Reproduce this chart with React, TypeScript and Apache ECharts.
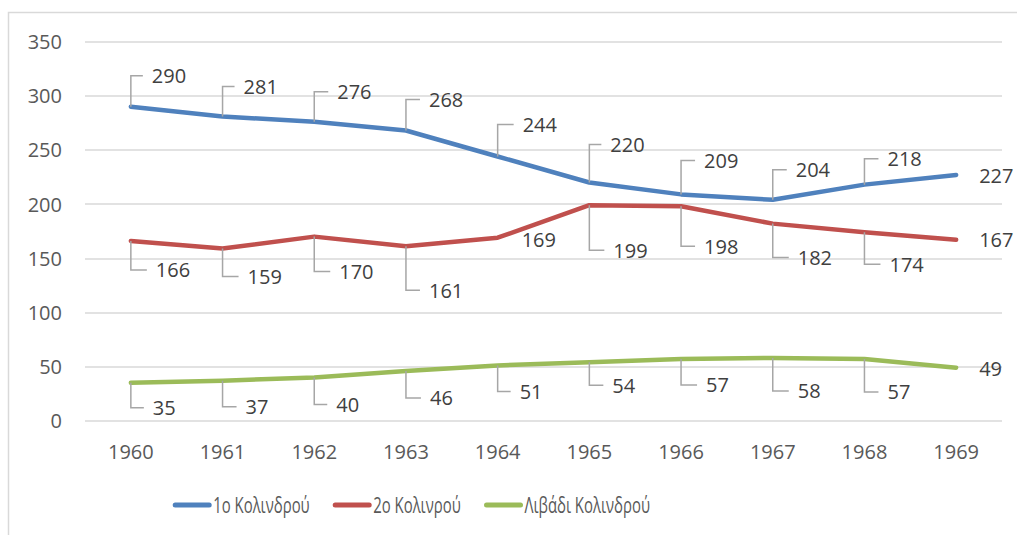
import React, { useEffect, useRef } from "react";
import * as echarts from "echarts";

// ---- data ----
const years = ["1960", "1961", "1962", "1963", "1964", "1965", "1966", "1967", "1968", "1969"];
const seriesNames = ["1ο Κολινδρού", "2ο Κολινρού", "Λιβάδι Κολινδρού"];
const kolindros1 = [290, 281, 276, 268, 244, 220, 209, 204, 218, 227];
const kolindros2 = [166, 159, 170, 161, 169, 199, 198, 182, 174, 167];
const livadi = [35, 37, 40, 46, 51, 54, 57, 58, 57, 49];
const yTicks = { min: 0, max: 350, interval: 50 };

// ---- label layout (pixel offsets of each data label from its point) ----
const lblDx1 = [21, 21, 23, 23, 25, 21, 23, 23, 23, 23];
const lblDy1 = [-31, -30, -30, -31, -32, -38, -34, -30, -26, 1];
const lblDx2 = [25, 25, 25, 23, 24, 24, 23, 25, 25, 23];
const lblDy2 = [29, 28, 35, 44, 2, 45, 40, 34, 32, 0];
const lblDx3 = [22, 23, 22, 24, 22, 23, 25, 25, 23, 23];
const lblDy3 = [25, 26, 27, 27, 26, 23, 26, 33, 33, 1];
const leader1 = [1, 1, 1, 1, 1, 1, 1, 1, 1, 0];
const leader2 = [1, 1, 1, 1, 0, 1, 1, 1, 1, 0];
const leader3 = [1, 1, 1, 1, 1, 1, 1, 1, 1, 0];

// ---- legend layout ----
const legendIconX = [172.7, 332.7, 484];
const legendY = 505;

const colors = ["#4f81bd", "#c0504d", "#9bbb59"];
const FONT = "'Open Sans', 'Noto Sans', sans-serif";

function labelSeries(name: string, values: number[], dx: number[], dy: number[], leader: number[]) {
  return {
    type: "custom",
    name,
    clip: false,
    z: 5,
    silent: true,
    data: values.map((v, i) => [i, v, dx[i], dy[i], leader[i]]),
    renderItem: (params: any, api: any) => {
      const pt = api.coord([api.value(0), api.value(1)]);
      const ox = api.value(2);
      const oy = api.value(3);
      const hasLeader = api.value(4) === 1;
      const children: any[] = [];
      if (hasLeader) {
        children.push({
          type: "polyline",
          shape: {
            points: [
              [pt[0], pt[1]],
              [pt[0], pt[1] + oy],
              [pt[0] + ox - 9, pt[1] + oy],
            ],
          },
          style: { stroke: "#a6a6a6", lineWidth: 1.5, fill: null },
        });
      }
      children.push({
        type: "text",
        x: pt[0] + ox,
        y: pt[1] + oy,
        style: {
          text: String(api.value(1)),
          fill: "#404040",
          font: `20px ${FONT}`,
          align: "left",
          verticalAlign: "middle",
        },
      });
      return { type: "group", children };
    },
  };
}

export default function App() {
  const ref = useRef<HTMLDivElement>(null);
  useEffect(() => {
    if (!ref.current) return;
    const chart = echarts.init(ref.current, undefined, { renderer: "svg" });
    const lineSeries = [kolindros1, kolindros2, livadi].map((vals, i) => ({
      type: "line",
      name: seriesNames[i],
      data: vals,
      showSymbol: false,
      symbol: "none",
      lineStyle: { width: 4.5, color: colors[i], cap: "round", join: "round" },
      itemStyle: { color: colors[i] },
      z: 3,
    }));
    const legendGraphics: any[] = [];
    seriesNames.forEach((name, i) => {
      legendGraphics.push({
        type: "rect",
        shape: { x: legendIconX[i], y: legendY - 2.5, width: 39, height: 5, r: 2.5 },
        style: { fill: colors[i] },
        silent: true,
      });
      legendGraphics.push({
        type: "text",
        x: legendIconX[i] + 40.5,
        y: legendY,
        scaleX: 0.71,
        style: {
          text: name,
          fill: "#595959",
          font: `21px ${FONT}`,
          align: "left",
          verticalAlign: "middle",
        },
        silent: true,
      });
    });
    chart.setOption({
      animation: false,
      backgroundColor: "#ffffff",
      graphic: [
        {
          type: "rect",
          shape: { x: 8.5, y: 12.5, width: 1200, height: 700 },
          style: { fill: null, stroke: "#d9d9d9", lineWidth: 1.5 },
          silent: true,
          z: 0,
        },
        ...legendGraphics,
      ],
      grid: { left: 85, right: 15, top: 41.7, bottom: 114.3, containLabel: false },
      xAxis: {
        type: "category",
        data: years,
        boundaryGap: true,
        axisLine: { show: false },
        axisTick: { show: false },
        axisLabel: { color: "#595959", fontSize: 20, fontFamily: FONT, margin: 21 },
      },
      yAxis: {
        type: "value",
        min: yTicks.min,
        max: yTicks.max,
        interval: yTicks.interval,
        axisLine: { show: false },
        axisTick: { show: false },
        splitLine: { lineStyle: { color: "#d9d9d9", width: 1.5 } },
        axisLabel: { color: "#595959", fontSize: 20, fontFamily: FONT, margin: 23 },
      },
      series: [
        ...lineSeries,
        labelSeries("lbl1", kolindros1, lblDx1, lblDy1, leader1),
        labelSeries("lbl2", kolindros2, lblDx2, lblDy2, leader2),
        labelSeries("lbl3", livadi, lblDx3, lblDy3, leader3),
      ],
    });
    return () => chart.dispose();
  }, []);
  return (
    <div
      ref={ref}
      style={{ position: "fixed", left: 0, top: 0, width: 1017, height: 535, background: "#fff" }}
    />
  );
}
